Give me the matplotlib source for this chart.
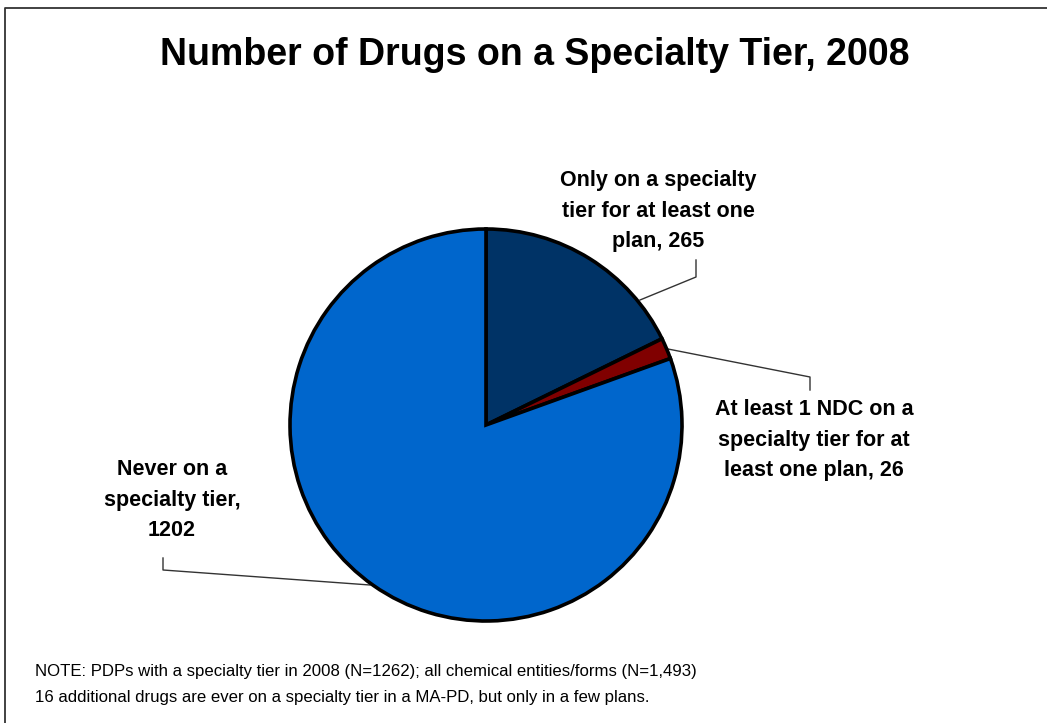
import matplotlib
matplotlib.use('Agg')
import matplotlib.pyplot as plt

plt.rcParams['font.family'] = ['Liberation Sans', 'DejaVu Sans']

# Drug counts by specialty-tier status
categories = ['Only on a specialty\ntier for at least one\nplan',
              'At least 1 NDC on a\nspecialty tier for at\nleast one plan',
              'Never on a\nspecialty tier,\n']
counts = [265, 26, 1202]
colors = ['#003366', '#800000', '#0066CC']

title = 'Number of Drugs on a Specialty Tier, 2008'
note = ('NOTE: PDPs with a specialty tier in 2008 (N=1262); all chemical entities/forms (N=1,493)\n'
        '16 additional drugs are ever on a specialty tier in a MA-PD, but only in a few plans.')

W, H = 1047, 723
fig = plt.figure(figsize=(W / 100, H / 100), dpi=100)
fig.patch.set_facecolor('white')

# pixel-space overlay for text, frame and leader lines
ov = fig.add_axes([0, 0, 1, 1])
ov.set_xlim(0, W)
ov.set_ylim(H, 0)
ov.axis('off')

# pie axes, centred at (486, 425) px with radius ~196 px
cx, cy, r = 486, 425, 196
half = 210
pie_ax = fig.add_axes([(cx - half) / W, (H - cy - half) / H, 2 * half / W, 2 * half / H])
pie_ax.pie(counts, colors=colors, startangle=90, counterclock=False,
           radius=r / half,
           wedgeprops=dict(edgecolor='black', linewidth=2.6))
pie_ax.set_xlim(-1, 1)
pie_ax.set_ylim(-1, 1)
pie_ax.set_aspect('equal')
pie_ax.axis('off')

# outer frame (open to the right and bottom)
ov.plot([5, 5, W + 5], [H + 5, 8, 8], color='#333333', lw=1.3, clip_on=False)

ov.text(535, 55, title, ha='center', va='center', fontsize=27, fontweight='bold')

lbl = dict(ha='center', va='top', fontsize=15.5, fontweight='bold', linespacing=1.6)
ov.text(658, 170, categories[0] + f', {counts[0]}', **lbl)
ov.text(814, 399, categories[1] + f', {counts[1]}', **lbl)
ov.text(172, 459, categories[2] + f'{counts[2]}', **lbl)

# leader lines
lc = dict(color='#333333', lw=1.0)
ov.plot([640, 696, 696], [300, 277, 260], **lc)
ov.plot([668, 810, 810], [349, 377, 390], **lc)
ov.plot([370, 163, 163], [585, 570, 558], **lc)

ov.text(35, 664, note, ha='left', va='top', fontsize=12.1, linespacing=1.95)

fig.savefig('out.png', dpi=100, facecolor='white')
